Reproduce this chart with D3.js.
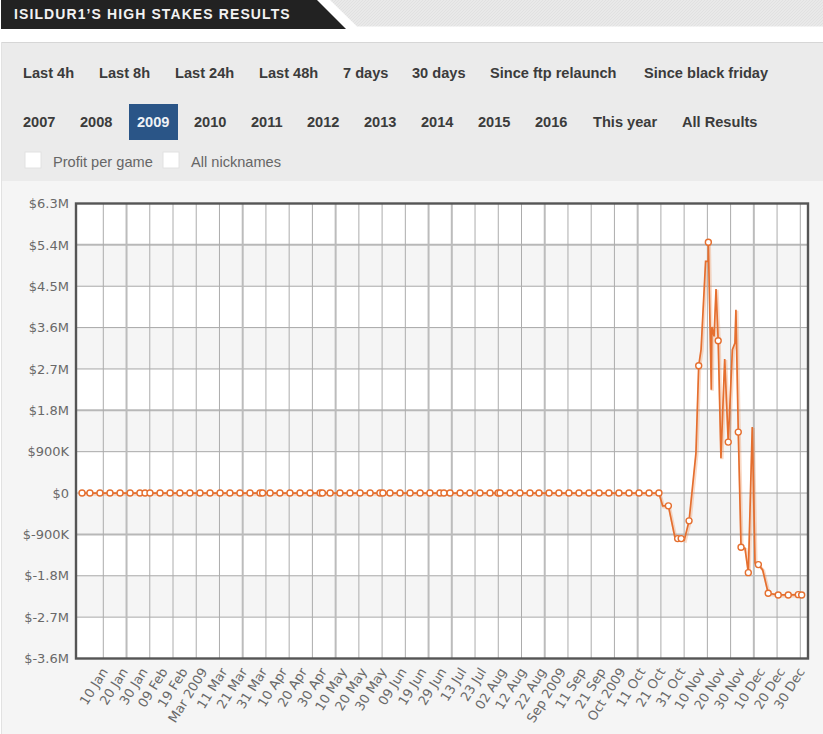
<!DOCTYPE html>
<html>
<head>
<meta charset="utf-8">
<title>Isildur1's high stakes results</title>
<script src="https://d3js.org/d3.v7.min.js"></script>
<style>
  body { margin: 0; background: #fff; }
  svg { display: block; }
  .tab { font: bold 14.6px "Liberation Sans", Arial, sans-serif; fill: #3b3b3b; }
  .check { font: 14.6px "Liberation Sans", Arial, sans-serif; fill: #666; }
  .axis text { font: 13px "DejaVu Sans", Verdana, sans-serif; fill: #696969; }
  .axis path, .axis line { display: none; }
</style>
</head>
<body>
<div id="chart"></div>
<script>
// day of 2009 (1 = 1 Jan) and cumulative profit in $M
const days = [
  -0.8, 3.2, 8.3, 13.4, 18.5, 23.6, 28.6, 31.2, 33.7, 38.8,
  43.9, 48.9, 54.0, 59.1, 64.2, 69.3, 74.3, 79.4, 84.5, 89.6,
  90.9, 94.7, 99.7, 104.8, 109.9, 115.0, 120.1, 121.3, 125.2, 130.2,
  135.3, 140.4, 145.5, 150.5, 152.0, 155.6, 160.7, 165.8, 170.9, 175.9,
  181.0, 183.0, 186.1, 191.2, 196.2, 201.3, 206.4, 210.5, 211.5, 216.6,
  221.6, 226.7, 231.3, 236.4, 241.4, 246.5, 251.6, 256.7, 261.8, 266.8,
  271.9, 277.0, 282.1, 287.2, 292.2,
  294.1, 297.0, 300.4, 301.7, 303.5, 305.1, 307.5, 311.0, 312.4, 313.6,
  315.9, 317.2, 317.3, 318.8, 319.1, 320.2, 321.2, 322.3, 323.7, 325.6,
  327.4, 329.5, 330.8, 331.3, 332.5, 333.9, 335.9, 337.6, 339.6, 341.0,
  342.7, 344.9, 347.7, 352.8, 357.9, 363.0, 364.7
];
const profit = [
  0, 0, 0, 0, 0, 0, 0, 0, 0, 0,
  0, 0, 0, 0, 0, 0, 0, 0, 0, 0,
  0, 0, 0, 0, 0, 0, 0, 0, 0, 0,
  0, 0, 0, 0, 0, 0, 0, 0, 0, 0,
  0, 0, 0, 0, 0, 0, 0, 0, 0, 0,
  0, 0, 0, 0, 0, 0, 0, 0, 0, 0,
  0, 0, 0, 0, 0,
  -0.279, -0.279, -0.982, -0.991, -0.991, -1.02, -0.605, 0.869, 2.77, 3.119,
  5.042, 5.042, 5.456, 2.248, 3.613, 3.409, 4.441, 3.315, 0.76, 2.916,
  1.109, 3.119, 3.265, 3.99, 1.326, -1.178, -1.2, -1.732, 1.435, -1.52,
  -1.557, -1.673, -2.18, -2.217, -2.217, -2.211, -2.217
];
// line bends that carry no round marker in the picture
const unmarkedDays = [
  294.1, 300.4, 305.1, 311.0, 313.6, 315.9, 317.2, 318.8, 319.1, 320.2,
  321.2, 323.7, 325.6, 329.5, 330.8, 331.3, 335.9, 339.6, 341.0, 344.9
];

const yTicks = [6.3, 5.4, 4.5, 3.6, 2.7, 1.8, 0.9, 0, -0.9, -1.8, -2.7, -3.6];
const yHeavy = [5.4, 1.8, -0.9];
const xLabels = [
  "10 Jan", "20 Jan", "30 Jan", "09 Feb", "19 Feb", "Mar 2009", "11 Mar", "21 Mar", "31 Mar",
  "10 Apr", "20 Apr", "30 Apr", "10 May", "20 May", "30 May", "09 Jun", "19 Jun", "29 Jun",
  "13 Jul", "23 Jul", "02 Aug", "12 Aug", "22 Aug", "Sep 2009", "11 Sep", "21 Sep", "Oct 2009",
  "11 Oct", "21 Oct", "31 Oct", "10 Nov", "20 Nov", "30 Nov", "10 Dec", "20 Dec", "30 Dec"
];
const gridDays = d3.range(31).map(i => 10 + i * 11.8);
const gridHeavy = [1, 6, 10, 14, 15, 19, 23, 28];

const title = "ISILDUR1\u2019S HIGH STAKES RESULTS";
const tabsTop = ["Last 4h", "Last 8h", "Last 24h", "Last 48h", "7 days", "30 days", "Since ftp relaunch", "Since black friday"];
const tabsTopX = [23, 99, 175, 259, 343, 412, 490, 644];
const tabsYears = ["2007", "2008", "2009", "2010", "2011", "2012", "2013", "2014", "2015", "2016", "This year", "All Results"];
const tabsYearsX = [23, 80, 137, 194, 251, 307, 364, 421, 478, 535, 593, 682];
const checks = ["Profit per game", "All nicknames"];
const checksX = [25, 163];

const width = 823, height = 734;
const frame = { left: 76, right: 808, top: 203.5, bottom: 658.5 };

const svg = d3.select("#chart").append("svg").attr("width", width).attr("height", height);

// title strip
const hatch = svg.append("defs").append("pattern").attr("id", "hatch")
  .attr("width", 3).attr("height", 3).attr("patternUnits", "userSpaceOnUse");
hatch.append("rect").attr("width", 3).attr("height", 3).attr("fill", "#e9e9e9");
hatch.append("path").attr("d", "M0,3L3,0").attr("stroke", "#e1e1e1").attr("stroke-width", 1);
svg.append("path").attr("d", "M330,0H823V26.5H357Z").attr("fill", "url(#hatch)");
svg.append("path").attr("d", "M1,0H317L346,29H1Z").attr("fill", "#222");
svg.append("text").attr("x", 14).attr("y", 19).text(title)
  .style("font", 'bold 14px "Liberation Sans", Arial, sans-serif')
  .style("letter-spacing", "1.1px").attr("fill", "#f2f2f2");

// filter panel
svg.append("rect").attr("x", 1).attr("y", 42).attr("width", 822).attr("height", 139).attr("fill", "#ebebeb");
svg.append("rect").attr("x", 1).attr("y", 42).attr("width", 822).attr("height", 1).attr("fill", "#d6d6d6");
svg.append("rect").attr("x", 1).attr("y", 181).attr("width", 822).attr("height", 553).attr("fill", "#f5f5f5");
svg.append("rect").attr("x", 1).attr("y", 42).attr("width", 1).attr("height", 692).attr("fill", "#e2e2e2");

svg.append("rect").attr("x", 129).attr("y", 104).attr("width", 49).attr("height", 36).attr("fill", "#2a5587");
svg.selectAll(".tab-top").data(tabsTop).join("text").attr("class", "tab")
  .attr("x", (d, i) => tabsTopX[i]).attr("y", 78).text(d => d);
svg.selectAll(".tab-year").data(tabsYears).join("text").attr("class", "tab")
  .attr("x", (d, i) => tabsYearsX[i]).attr("y", 127).text(d => d)
  .style("fill", d => d === "2009" ? "#eef2f6" : null);
svg.selectAll(".check-box").data(checks).join("rect")
  .attr("x", (d, i) => checksX[i]).attr("y", 152).attr("width", 16).attr("height", 16)
  .attr("fill", "#fff").attr("stroke", "#e2e2e2");
svg.selectAll(".check-label").data(checks).join("text").attr("class", "check")
  .attr("x", (d, i) => checksX[i] + 28).attr("y", 167).text(d => d);

// scales
const x = d3.scaleLinear().domain([10, 364]).range([103.3, 800.3]);
const y = d3.scaleLinear().domain([-3.6, 6.3]).range([frame.bottom, frame.top]);
const xLabel = d3.scalePoint().domain(xLabels).range([104, 801]);

// plot background and bands
const plot = svg.append("g");
plot.append("rect").attr("x", frame.left).attr("y", frame.top)
  .attr("width", frame.right - frame.left).attr("height", frame.bottom - frame.top).attr("fill", "#fff");
plot.selectAll(".band").data(yTicks.slice(0, -1).filter((d, i) => i % 2 === 1)).join("rect")
  .attr("x", frame.left).attr("width", frame.right - frame.left)
  .attr("y", d => y(d)).attr("height", d => y(d - 0.9) - y(d)).attr("fill", "#f5f5f5");

// grid
plot.selectAll(".grid-h").data(yTicks).join("line")
  .attr("x1", frame.left).attr("x2", frame.right).attr("y1", d => y(d)).attr("y2", d => y(d))
  .attr("stroke", d => yHeavy.includes(d) ? "#b8b8b8" : "#a8a8a8")
  .attr("stroke-width", d => yHeavy.includes(d) ? 2 : 1);
plot.selectAll(".grid-v").data(gridDays).join("line")
  .attr("x1", d => x(d)).attr("x2", d => x(d)).attr("y1", frame.top).attr("y2", frame.bottom)
  .attr("stroke", (d, i) => gridHeavy.includes(i) ? "#bcbcbc" : "#acacac")
  .attr("stroke-width", (d, i) => gridHeavy.includes(i) ? 2 : 1);

// frame
plot.append("rect").attr("x", frame.left).attr("y", frame.top)
  .attr("width", frame.right - frame.left).attr("height", frame.bottom - frame.top)
  .attr("fill", "none").attr("stroke", "#555").attr("stroke-width", 2.4);

// axes
const tickText = v => {
  if (v === 0) return "$0";
  return Math.abs(v) < 1 ? "$" + Math.round(v * 1000) + "K" : "$" + v + "M";
};
svg.append("g").attr("class", "axis").attr("transform", `translate(${frame.left - 7},0)`)
  .call(d3.axisLeft(y).tickValues(yTicks).tickFormat(tickText).tickSize(0).tickPadding(0));

svg.append("g").attr("class", "axis").attr("transform", "translate(0,669)")
  .call(d3.axisBottom(xLabel).tickSize(0).tickPadding(0))
  .selectAll("text")
  .attr("text-anchor", "end").attr("y", 0).attr("dy", "0.35em")
  .attr("transform", "rotate(-58)");

// series
const points = days.map((d, i) => ({ day: d, value: profit[i] }));
const line = d3.line().x(d => x(d.day)).y(d => y(d.value));

svg.append("path").datum(points).attr("d", line).attr("fill", "none")
  .attr("stroke", "#ec8446").attr("stroke-opacity", 0.3).attr("stroke-width", 3.2)
  .attr("transform", "translate(1,1)");
svg.append("path").datum(points).attr("d", line).attr("fill", "none")
  .attr("stroke", "#e56f2f").attr("stroke-width", 1.7);
svg.selectAll(".pt").data(points.filter(p => !unmarkedDays.includes(p.day))).join("circle")
  .attr("cx", d => x(d.day)).attr("cy", d => y(d.value)).attr("r", 3)
  .attr("fill", "#fff").attr("stroke", "#e56f2f").attr("stroke-width", 1.4);
</script>
</body>
</html>
